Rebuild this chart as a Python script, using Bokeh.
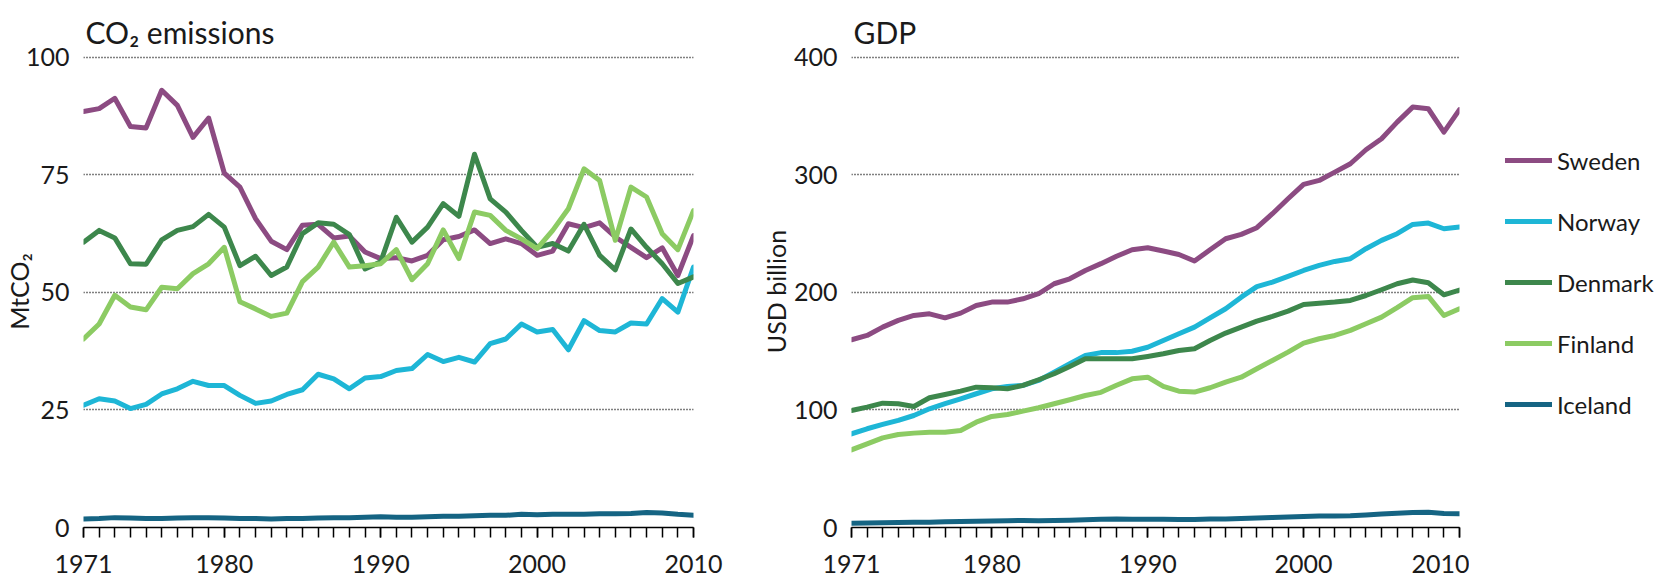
from bokeh.plotting import figure
from bokeh.layouts import row
from bokeh.models import FixedTicker, Legend, LegendItem, ColumnDataSource, Range1d
from bokeh.embed import file_html
from bokeh.resources import INLINE

years = list(range(1971, 2011))
countries = ["Sweden", "Norway", "Denmark", "Finland", "Iceland"]
colors = ["#8c4b82", "#1eb6d6", "#3d874c", "#8ccb63", "#156483"]

co2_sweden = [88.5, 89.1, 91.3, 85.3, 85.0, 93.0, 89.8, 83.0, 87.1, 75.4,
              72.4, 65.7, 60.9, 59.1, 64.3, 64.5, 61.6, 62.0, 58.6, 57.2,
              57.4, 56.7, 57.9, 61.2, 61.9, 63.3, 60.4, 61.4, 60.4, 57.9,
              58.8, 64.6, 63.8, 64.8, 61.8, 59.6, 57.4, 59.5, 53.6, 62.1]
co2_norway = [26.0, 27.4, 26.9, 25.3, 26.2, 28.4, 29.5, 31.1, 30.2, 30.2,
              28.1, 26.4, 26.9, 28.3, 29.3, 32.6, 31.6, 29.5, 31.8, 32.1,
              33.4, 33.8, 36.8, 35.3, 36.2, 35.2, 39.1, 40.1, 43.3, 41.6,
              42.1, 37.8, 44.0, 41.9, 41.6, 43.5, 43.3, 48.7, 45.8, 55.4]
co2_denmark = [60.7, 63.2, 61.6, 56.1, 56.0, 61.2, 63.2, 64.0, 66.6, 63.9,
               55.7, 57.7, 53.6, 55.4, 62.5, 64.8, 64.5, 62.3, 55.0, 56.5,
               66.0, 60.7, 63.9, 68.9, 66.2, 79.4, 69.9, 67.1, 63.2, 59.6,
               60.4, 58.8, 64.5, 57.9, 54.8, 63.5, 59.6, 56.1, 51.9, 53.3]
co2_finland = [40.1, 43.3, 49.4, 46.9, 46.3, 51.1, 50.8, 54.0, 56.1, 59.6,
               48.0, 46.5, 44.9, 45.6, 52.3, 55.4, 60.7, 55.4, 55.7, 56.1,
               59.1, 52.7, 56.1, 63.3, 57.2, 67.1, 66.4, 63.2, 61.4, 59.3,
               63.2, 67.8, 76.3, 73.8, 61.1, 72.4, 70.3, 62.5, 59.1, 67.4]
co2_iceland = [1.8, 1.9, 2.1, 2.0, 1.9, 1.9, 2.0, 2.1, 2.1, 2.0,
               1.9, 1.9, 1.8, 1.9, 1.9, 2.0, 2.1, 2.1, 2.2, 2.3,
               2.2, 2.2, 2.3, 2.4, 2.4, 2.5, 2.6, 2.6, 2.8, 2.7,
               2.8, 2.8, 2.8, 2.9, 2.9, 3.0, 3.2, 3.1, 2.8, 2.6]

gdp_sweden = [159.7, 163.4, 170.5, 176.2, 180.4, 181.8, 178.4, 182.4, 188.9, 191.8,
              191.8, 194.6, 198.9, 207.4, 211.6, 218.7, 224.5, 230.8, 236.3, 238.0,
              235.2, 232.3, 226.7, 236.3, 245.7, 249.4, 255.1, 267.0, 279.7, 291.9,
              295.3, 302.4, 309.5, 321.4, 330.8, 344.9, 357.7, 356.3, 336.4, 355.5]
gdp_norway = [79.7, 84.0, 87.7, 91.1, 95.3, 101.0, 105.3, 109.5, 113.8, 118.0,
              120.0, 120.9, 125.1, 132.2, 139.3, 146.4, 148.8, 148.8, 150.0, 153.4,
              159.1, 164.8, 170.5, 178.4, 186.1, 196.0, 205.0, 208.8, 213.6, 218.7,
              223.0, 226.4, 228.7, 237.2, 244.3, 250.0, 257.9, 259.0, 254.2, 255.6]
gdp_denmark = [99.6, 102.4, 105.8, 105.3, 103.0, 110.4, 113.2, 116.0, 119.4, 118.9,
               118.0, 120.9, 125.7, 130.8, 137.0, 143.5, 143.5, 143.5, 143.5, 145.5,
               147.8, 150.6, 152.1, 159.1, 165.4, 170.5, 175.6, 179.6, 184.1, 189.8,
               190.9, 191.8, 193.2, 197.4, 202.3, 207.4, 210.6, 208.3, 198.0, 202.0]
gdp_finland = [66.1, 71.2, 76.3, 79.1, 80.3, 81.1, 81.1, 82.6, 89.6, 94.5,
               96.2, 99.0, 101.9, 105.3, 108.7, 112.3, 115.0, 121.0, 126.5, 127.9,
               120.0, 116.0, 115.2, 118.9, 123.7, 127.9, 135.1, 142.1, 149.2, 156.9,
               160.6, 163.4, 167.7, 173.4, 179.0, 187.0, 195.5, 196.6, 180.4, 186.1]
gdp_iceland = [3.7, 3.9, 4.1, 4.3, 4.4, 4.5, 4.8, 5.1, 5.3, 5.6,
               5.8, 5.9, 5.8, 5.9, 6.1, 6.5, 7.0, 7.2, 7.1, 7.1,
               7.1, 6.9, 6.9, 7.2, 7.3, 7.7, 8.1, 8.6, 9.0, 9.4,
               9.7, 9.7, 9.9, 10.7, 11.5, 12.1, 12.8, 13.0, 12.0, 11.7]

co2_ticks = [0, 25, 50, 75, 100]
gdp_ticks = [0, 100, 200, 300, 400]
x_major = [1971, 1980, 1990, 2000, 2010]

co2 = [co2_sweden, co2_norway, co2_denmark, co2_finland, co2_iceland]
gdp = [gdp_sweden, gdp_norway, gdp_denmark, gdp_finland, gdp_iceland]

FONT = "Lato"
TXT = "#1a1a1a"
H = 587


def make_fig(title, ylabel, ticks, series, width, bl, br, label_standoff):
    p = figure(width=width, height=H,
               x_range=Range1d(1971, 2010),
               y_range=Range1d(ticks[0], ticks[-1] * 1.004),
               output_backend="svg", toolbar_location=None,
               min_border_left=bl, min_border_right=br,
               min_border_top=55, min_border_bottom=60)
    p.outline_line_color = None
    p.background_fill_color = "white"
    p.border_fill_color = "white"

    p.title.text = title
    p.title.text_font = FONT
    p.title.text_font_size = "30px"
    p.title.text_font_style = "normal"
    p.title.text_color = TXT
    p.title.align = "left"
    p.title.offset = 2
    p.title.standoff = 12

    p.xgrid.grid_line_color = None
    p.ygrid.ticker = FixedTicker(ticks=ticks[1:])
    p.ygrid.grid_line_color = "black"
    p.ygrid.grid_line_dash = "1 2"
    p.ygrid.grid_line_width = 1.5

    ya = p.yaxis[0]
    ya.ticker = FixedTicker(ticks=ticks)
    ya.axis_line_color = None
    ya.major_tick_line_color = None
    ya.minor_tick_line_color = None
    ya.major_tick_out = 0
    ya.major_tick_in = 0
    ya.major_label_standoff = 14
    ya.major_label_text_font = FONT
    ya.major_label_text_font_size = "25px"
    ya.major_label_text_color = TXT
    ya.axis_label = ylabel
    ya.axis_label_text_font = FONT
    ya.axis_label_text_font_size = "25px"
    ya.axis_label_text_font_style = "normal"
    ya.axis_label_text_color = TXT
    ya.axis_label_standoff = label_standoff

    xa = p.xaxis[0]
    xa.ticker = FixedTicker(ticks=x_major, minor_ticks=years)
    xa.axis_line_color = "black"
    xa.axis_line_width = 1.5
    xa.major_tick_line_color = "black"
    xa.major_tick_line_width = 1.5
    xa.minor_tick_line_color = "black"
    xa.minor_tick_line_width = 1.5
    xa.major_tick_in = 0
    xa.major_tick_out = 10
    xa.minor_tick_in = 0
    xa.minor_tick_out = 10
    xa.major_label_standoff = 17
    xa.major_label_text_font = FONT
    xa.major_label_text_font_size = "25px"
    xa.major_label_text_color = TXT

    sources = []
    for name, vals, col in zip(countries, series, colors):
        src = ColumnDataSource(data=dict(year=years, value=vals))
        p.line("year", "value", source=src, line_color=col, line_width=5,
               line_join="round", line_cap="round")
        sources.append(src)
    return p, sources


p1, _ = make_fig("CO₂ emissions", "MtCO₂", co2_ticks, co2, 752, 83, 59, -11)
p2, gdp_sources = make_fig("GDP", "USD billion", gdp_ticks, gdp, 717, 99, 10, 0)

# legend panel: the GDP series re-drawn far outside this panel's ranges
# (so only their legend keys show)
p3 = figure(width=1665 - 752 - 717, height=H, x_range=Range1d(0, 1), y_range=Range1d(0, 1),
            output_backend="svg", toolbar_location=None,
            min_border_left=0, min_border_right=0, min_border_top=0, min_border_bottom=0)
p3.axis.visible = False
p3.grid.visible = False
p3.outline_line_color = None
items = []
for name, col, src in zip(countries, colors, gdp_sources):
    r = p3.line("year", "value", source=src, line_color=col, line_width=5, line_cap="round")
    items.append(LegendItem(label=name, renderers=[r]))
legend = Legend(items=items, location=(36, 108), orientation="vertical",
                glyph_width=47, glyph_height=30, label_height=30,
                label_standoff=5, spacing=31, padding=0, margin=0,
                border_line_color=None, background_fill_alpha=0,
                label_text_font=FONT, label_text_font_size="24px",
                label_text_color=TXT)
p3.add_layout(legend)

layout = row(p1, p2, p3, spacing=0)
open("out.html", "w").write(file_html(layout, INLINE))
